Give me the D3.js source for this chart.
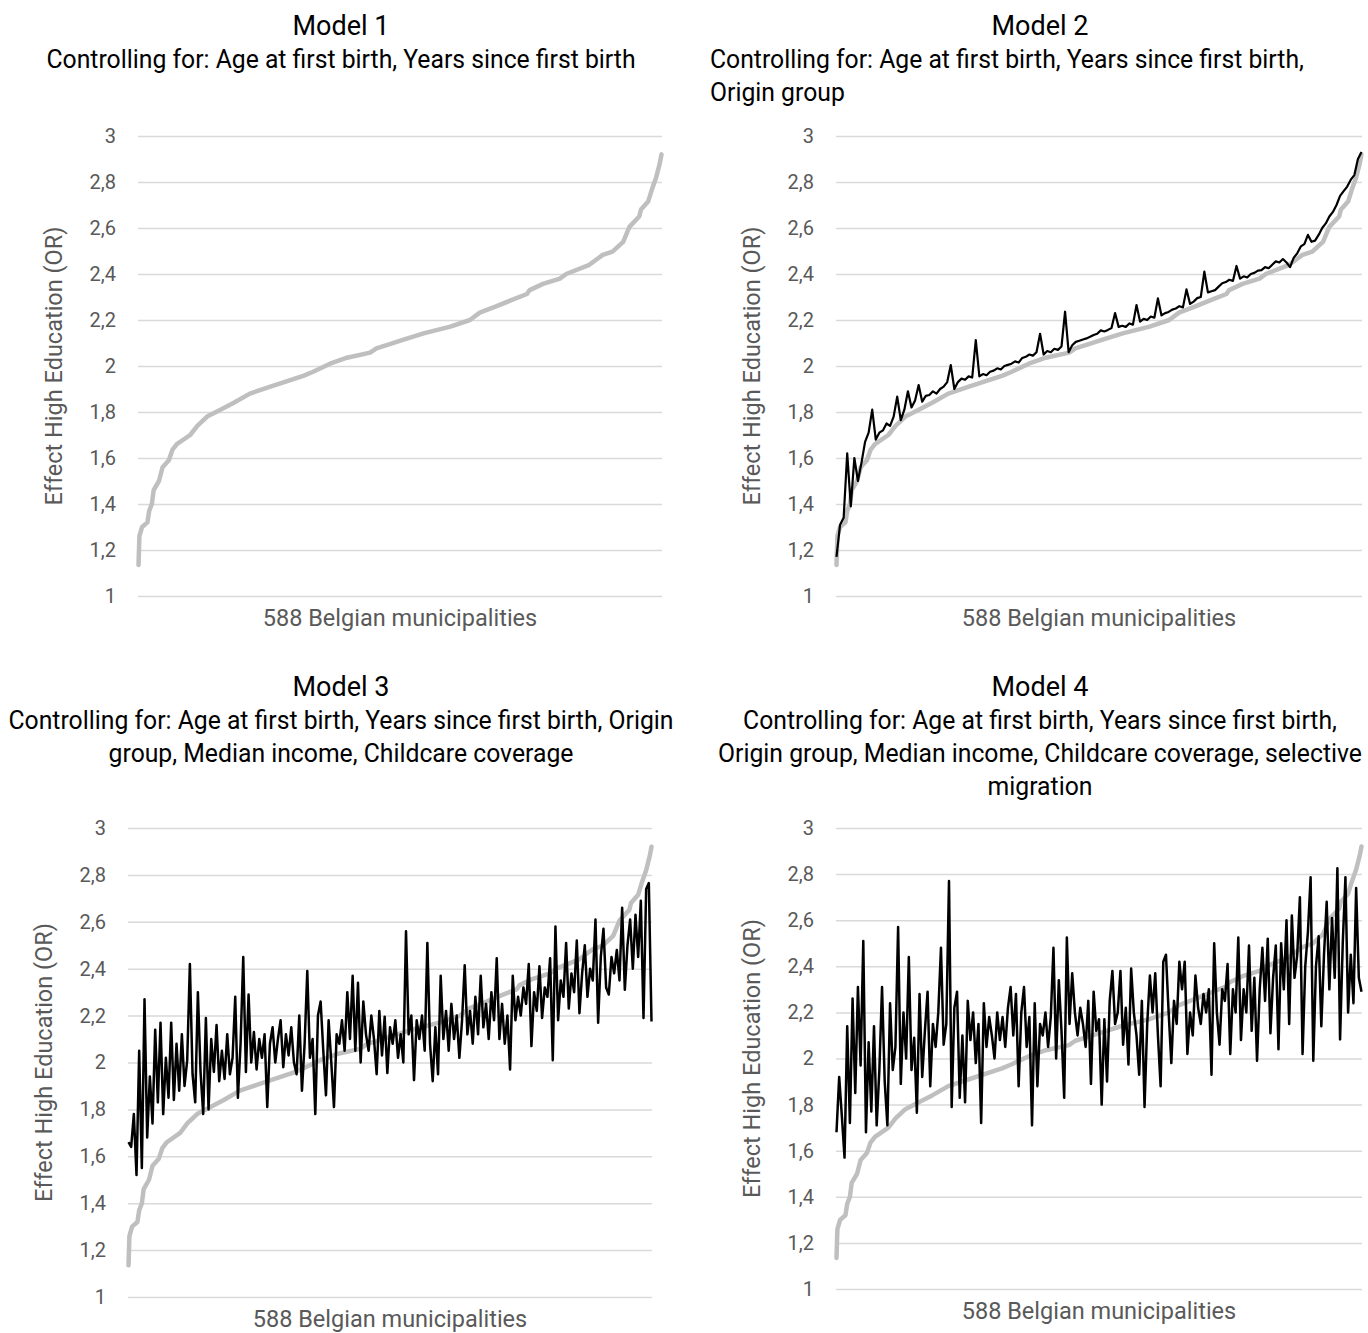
<!DOCTYPE html>
<html>
<head>
<meta charset="utf-8">
<script src="https://cdn.jsdelivr.net/npm/d3@7"></script>
<style>
  body { margin: 0; background: #fff; }
  svg { display: block; }
  text { font-family: Roboto, "Open Sans", sans-serif; }
</style>
</head>
<body>
<svg id="chart" width="1368" height="1333"></svg>
<script>
// y tick values (odds ratio)
const yTicks = [1, 1.2, 1.4, 1.6, 1.8, 2, 2.2, 2.4, 2.6, 2.8, 3];
const nMunicipalities = 588;

// Model 1: sorted municipality effects (grey reference line, read at ranks)
const baselineRank = [1, 2, 5, 11, 13, 16, 18, 24, 28, 35,
    39, 44, 59, 67, 78, 93, 108, 126, 149, 186,
    197, 216, 235, 261, 268, 283, 295, 321, 351, 373,
    384, 403, 418, 437, 440, 455, 474, 481, 507, 522,
    533, 545, 552, 563, 565, 573, 577, 582, 586, 588];
const baselineOR = [1.135, 1.26, 1.30, 1.32, 1.37, 1.40, 1.46, 1.50, 1.56, 1.59,
    1.635, 1.66, 1.70, 1.74, 1.78, 1.81, 1.84, 1.88, 1.91, 1.957,
    1.975, 2.01, 2.036, 2.058, 2.077, 2.095, 2.11, 2.142, 2.171, 2.20,
    2.232, 2.26, 2.284, 2.313, 2.33, 2.357, 2.38, 2.40, 2.44, 2.483,
    2.497, 2.54, 2.605, 2.65, 2.68, 2.715, 2.765, 2.82, 2.88, 2.92];

// Model 2 (evenly spread over the 588 ranks)
const model2OR = [1.17, 1.31, 1.34, 1.62, 1.39, 1.60, 1.50, 1.58, 1.67, 1.71,
    1.81, 1.68, 1.71, 1.72, 1.75, 1.74, 1.78, 1.867, 1.765, 1.81,
    1.89, 1.82, 1.85, 1.917, 1.845, 1.87, 1.874, 1.89, 1.88, 1.90,
    1.91, 1.93, 2.004, 1.90, 1.93, 1.945, 1.94, 1.955, 1.95, 2.113,
    1.955, 1.965, 1.96, 1.975, 1.98, 1.99, 1.985, 2.0, 2.005, 2.01,
    2.02, 2.015, 2.035, 2.04, 2.05, 2.045, 2.06, 2.14, 2.05, 2.065,
    2.06, 2.075, 2.07, 2.085, 2.236, 2.06, 2.09, 2.105, 2.11, 2.115,
    2.12, 2.127, 2.135, 2.14, 2.155, 2.15, 2.157, 2.165, 2.23, 2.17,
    2.175, 2.17, 2.185, 2.18, 2.265, 2.193, 2.205, 2.20, 2.215, 2.21,
    2.294, 2.22, 2.23, 2.235, 2.245, 2.25, 2.26, 2.255, 2.333, 2.27,
    2.28, 2.295, 2.30, 2.41, 2.32, 2.325, 2.33, 2.345, 2.36, 2.365,
    2.375, 2.37, 2.435, 2.38, 2.39, 2.385, 2.40, 2.405, 2.415, 2.417,
    2.43, 2.425, 2.44, 2.455, 2.45, 2.465, 2.45, 2.43, 2.47, 2.49,
    2.52, 2.53, 2.57, 2.54, 2.545, 2.57, 2.60, 2.62, 2.65, 2.67,
    2.70, 2.74, 2.76, 2.78, 2.81, 2.83, 2.90, 2.93];

// Model 3
const model3OR = [1.66, 1.64, 1.78, 1.52, 2.05, 1.55, 2.27, 1.68, 1.94, 1.74,
    2.14, 1.83, 2.17, 1.78, 2.02, 1.85, 2.17, 1.84, 2.08, 1.88,
    2.12, 1.9, 2.01, 2.42, 1.95, 1.83, 2.30, 1.96, 1.78, 2.19,
    1.80, 2.1, 1.96, 2.16, 1.92, 2.05, 1.93, 2.12, 1.95, 2.02,
    2.28, 1.85, 2.08, 2.45, 1.96, 2.29, 2.0, 2.13, 1.97, 2.1,
    2.02, 2.12, 1.81, 2.08, 2.15, 2.0, 2.1, 2.18, 1.98, 2.12,
    2.03, 2.15, 2.0, 1.95, 2.2, 1.88, 2.08, 2.39, 2.02, 2.1,
    1.78, 2.2, 2.26, 2.05, 1.86, 2.18, 2.0, 1.81, 2.12, 2.08,
    2.18, 2.05, 2.30, 2.1, 2.37, 2.05, 2.34, 2.0, 2.26, 2.12,
    2.05, 2.2, 2.1, 1.95, 2.22, 2.03, 2.195, 1.955, 2.15, 2.08,
    2.18, 2.02, 2.12, 2.0, 2.56, 2.12, 2.2, 1.925, 2.18, 2.1,
    2.2, 2.05, 2.51, 2.08, 1.92, 2.15, 1.95, 2.37, 2.1, 2.22,
    2.05, 2.25, 2.1, 2.2, 2.02, 2.18, 2.415, 2.12, 2.22, 2.08,
    2.28, 2.12, 2.37, 2.15, 2.25, 2.1, 2.3, 2.18, 2.445, 2.1,
    2.25, 2.08, 2.2, 1.97, 2.37, 2.18, 2.28, 2.2, 2.32, 2.25,
    2.42, 2.07, 2.3, 2.22, 2.41, 2.19, 2.32, 2.28, 2.445, 2.01,
    2.58, 2.18, 2.35, 2.28, 2.51, 2.23, 2.38, 2.3, 2.52, 2.21,
    2.38, 2.50, 2.28, 2.4, 2.35, 2.61, 2.17, 2.45, 2.57, 2.32,
    2.29, 2.45, 2.38, 2.48, 2.35, 2.66, 2.31, 2.5, 2.61, 2.4,
    2.63, 2.45, 2.69, 2.19, 2.74, 2.765, 2.175];

// Model 4
const model4OR = [1.68, 1.92, 1.75, 1.57, 2.14, 1.72, 2.26, 1.85, 2.31, 1.97,
    2.51, 1.68, 2.07, 1.77, 2.14, 1.71, 1.95, 2.31, 1.9, 1.71,
    2.24, 1.95, 2.05, 2.57, 1.89, 2.2, 2.0, 2.44, 1.95, 2.09,
    1.765, 2.28, 1.92, 2.12, 2.29, 1.88, 2.15, 2.05, 2.2, 2.48,
    2.06, 2.15, 2.77, 1.79, 2.22, 2.29, 1.83, 2.1, 1.81, 2.25,
    2.08, 2.2, 1.98, 2.15, 1.72, 2.24, 2.05, 2.18, 2.1, 2.0,
    2.2, 2.08, 2.18, 2.05, 2.22, 2.31, 2.1, 2.28, 1.88, 2.2,
    2.31, 2.05, 2.18, 1.71, 2.24, 1.88, 2.15, 2.1, 2.2, 2.05,
    2.18, 2.48, 2.0, 2.34, 2.12, 1.83, 2.525, 2.15, 2.37, 2.2,
    2.1, 2.22, 2.15, 2.05, 2.25, 1.89, 2.29, 2.12, 2.17, 1.80,
    2.17, 1.9, 2.25, 2.38, 2.15, 2.2, 2.38, 2.06, 2.22, 1.974,
    2.39, 2.2, 2.1, 1.93, 2.25, 1.79, 2.15, 2.36, 2.2, 2.37,
    2.1, 1.88, 2.42, 2.45, 2.2, 1.98, 2.25, 2.15, 2.42, 2.3,
    2.42, 2.02, 2.2, 2.1, 2.36, 2.22, 2.15, 2.28, 2.2, 2.3,
    1.93, 2.5, 2.2, 2.06, 2.3, 2.25, 2.41, 2.02, 2.3, 2.2,
    2.525, 2.08, 2.3, 2.2, 2.49, 2.12, 2.35, 1.99, 2.3, 2.48,
    2.25, 2.52, 2.11, 2.35, 2.49, 2.04, 2.5, 2.3, 2.60, 2.15,
    2.62, 2.35, 2.45, 2.70, 2.02, 2.4, 2.55, 2.786, 1.99, 2.4,
    2.53, 2.14, 2.45, 2.68, 2.3, 2.61, 2.35, 2.825, 2.083, 2.5,
    2.786, 2.2, 2.45, 2.24, 2.74, 2.35, 2.29];

const titles = ["Model 1", "Model 2", "Model 3", "Model 4"];
const subtitles = [
    ["Controlling for: Age at first birth, Years since first birth"],
    ["Controlling for: Age at first birth, Years since first birth,", "Origin group"],
    ["Controlling for: Age at first birth, Years since first birth, Origin", "group, Median income, Childcare coverage"],
    ["Controlling for: Age at first birth, Years since first birth,", "Origin group, Median income, Childcare coverage, selective", "migration"]
];
const blackSeries = [null, model2OR, model3OR, model4OR];
const yTitle = "Effect High Education (OR)";
const xTitle = "588 Belgian municipalities";

// panel geometry
const panels = [
    { left: 138, right: 662, top: 136, bottom: 596, cx: 341, titleY: 35, yTitleX: 62, align: "middle" },
    { left: 836, right: 1362, top: 136, bottom: 596, cx: 1040, titleY: 35, yTitleX: 760, align: "start", subX: 710 },
    { left: 128, right: 652, top: 828, bottom: 1297, cx: 341, titleY: 696, yTitleX: 52, align: "middle" },
    { left: 836, right: 1362, top: 828, bottom: 1289, cx: 1040, titleY: 696, yTitleX: 760, align: "middle" }
];

const svg = d3.select("#chart");
const fmt = d => d3.format("~g")(d).replace(".", ",");
const subScale = 0.99;

panels.forEach((p, k) => {
    const g = svg.append("g");

    const x = d3.scaleLinear().domain([1, nMunicipalities]).range([p.left + 0.5, p.right - 0.5]);
    const y = d3.scaleLinear().domain([1, 3]).range([p.bottom, p.top]);

    // gridlines + tick labels
    const axis = g.append("g")
        .attr("transform", `translate(${p.left},0)`)
        .call(d3.axisLeft(y).tickValues(yTicks).tickFormat(fmt)
            .tickSize(-(p.right - p.left)).tickPadding(22));
    axis.select(".domain").remove();
    axis.selectAll("line").attr("stroke", "#d9d9d9").attr("stroke-width", 1.5);
    axis.selectAll("text").attr("fill", "#595959").style("font-size", "20px");

    // titles
    g.append("text")
        .attr("x", p.cx).attr("y", p.titleY)
        .attr("text-anchor", "middle")
        .style("font-size", "27px").attr("fill", "#000")
        .text(titles[k]);

    subtitles[k].forEach((line, j) => {
        const tx = p.align === "start" ? p.subX : p.cx;
        g.append("text")
            .attr("transform", `translate(${tx},${p.titleY + 33 * (j + 1)}) scale(${subScale},1)`)
            .attr("text-anchor", p.align)
            .style("font-size", "25px").attr("fill", "#000")
            .text(line);
    });

    // axis titles
    g.append("text")
        .attr("transform", `translate(${p.yTitleX},${(p.top + p.bottom) / 2}) rotate(-90)`)
        .attr("text-anchor", "middle")
        .style("font-size", "23.5px").attr("fill", "#595959")
        .text(yTitle);
    g.append("text")
        .attr("x", (p.left + p.right) / 2).attr("y", p.bottom + 30)
        .attr("text-anchor", "middle")
        .style("font-size", "23.5px").attr("fill", "#595959")
        .text(xTitle);

    // grey Model 1 line
    const greyLine = d3.line()
        .x((d, i) => x(baselineRank[i]))
        .y(d => y(d));
    g.append("path")
        .datum(baselineOR)
        .attr("d", greyLine)
        .attr("fill", "none")
        .attr("stroke", "#bfbfbf")
        .attr("stroke-width", 4.5)
        .attr("stroke-linejoin", "round")
        .attr("stroke-linecap", "round");

    // black model line
    const series = blackSeries[k];
    if (series) {
        const step = (nMunicipalities - 1) / (series.length - 1);
        const blackLine = d3.line()
            .x((d, i) => x(1 + i * step))
            .y(d => y(d));
        g.append("path")
            .datum(series)
            .attr("d", blackLine)
            .attr("fill", "none")
            .attr("stroke", "#000")
            .attr("stroke-width", k === 1 ? 2.2 : 2.5)
            .attr("stroke-linejoin", "round");
    }
});
</script>
</body>
</html>
